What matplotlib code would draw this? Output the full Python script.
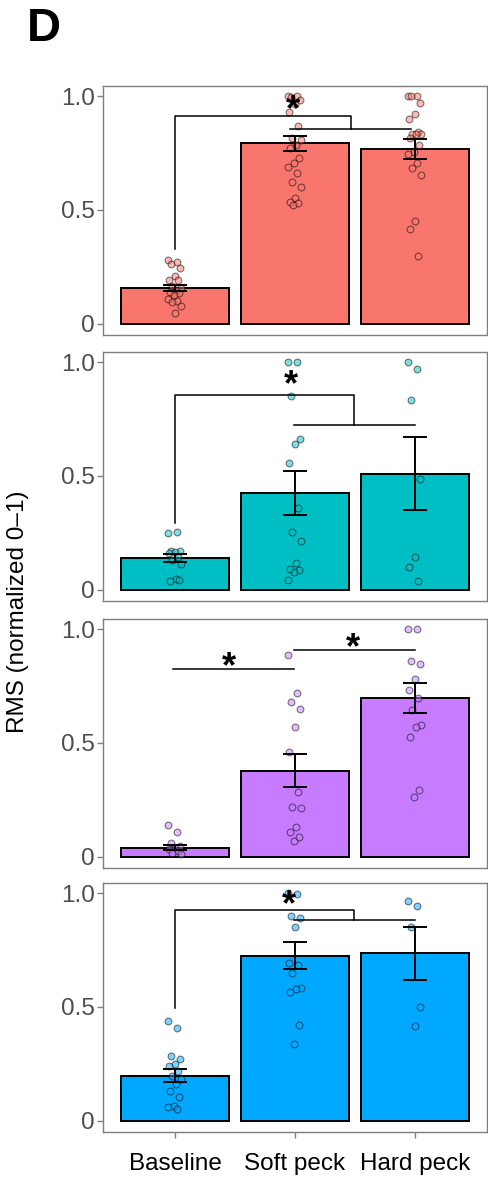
import numpy as np
import matplotlib
matplotlib.use("Agg")
import matplotlib.pyplot as plt

plt.rcParams['font.family'] = ['Liberation Sans', 'DejaVu Sans']

categories = ["Baseline", "Soft peck", "Hard peck"]
colors = ["#F8766D", "#00BFC4", "#C77CFF", "#00A9FF"]

# bar means and standard errors per panel
means = [
    [0.158, 0.793, 0.769],
    [0.139, 0.425, 0.510],
    [0.040, 0.378, 0.698],
    [0.197, 0.726, 0.736],
]
sems = [
    [0.013, 0.034, 0.045],
    [0.016, 0.096, 0.160],
    [0.011, 0.073, 0.065],
    [0.028, 0.058, 0.116],
]

# individual points
pts_p1 = [
    [0.282, 0.270, 0.263, 0.245, 0.209, 0.194, 0.190, 0.165, 0.155, 0.147, 0.139,
     0.133, 0.128, 0.107, 0.099, 0.096, 0.077, 0.048],
    [1.0, 1.0, 0.997, 0.982, 0.965, 0.931, 0.870, 0.815, 0.807, 0.785, 0.771, 0.727,
     0.705, 0.690, 0.661, 0.622, 0.600, 0.552, 0.537, 0.530, 0.523],
    [1.0, 1.0, 1.0, 0.971, 0.920, 0.902, 0.844, 0.836, 0.836, 0.834, 0.815, 0.785,
     0.756, 0.745, 0.705, 0.683, 0.654, 0.450, 0.416, 0.299],
]
pts_p2 = [
    [0.249, 0.253, 0.170, 0.170, 0.165, 0.161, 0.143, 0.132, 0.114, 0.048, 0.038, 0.044],
    [1.0, 1.0, 0.851, 0.663, 0.641, 0.558, 0.359, 0.253, 0.214, 0.119, 0.089, 0.085,
     0.078, 0.044],
    [1.0, 0.969, 0.835, 0.488, 0.142, 0.098, 0.037],
]
pts_p3 = [
    [0.139, 0.107, 0.059, 0.048, 0.040, 0.034, 0.026, 0.015, 0.010],
    [0.886, 0.720, 0.681, 0.649, 0.571, 0.461, 0.286, 0.217, 0.215, 0.130, 0.110,
     0.086, 0.070],
    [1.0, 1.0, 0.859, 0.846, 0.779, 0.732, 0.698, 0.644, 0.578, 0.571, 0.527, 0.293,
     0.264],
]
pts_p4 = [
    [0.438, 0.406, 0.285, 0.270, 0.248, 0.241, 0.219, 0.197, 0.182, 0.161, 0.131,
     0.105, 0.066, 0.058, 0.051],
    [1.0, 0.997, 0.898, 0.891, 0.850, 0.693, 0.686, 0.650, 0.584, 0.577, 0.566,
     0.420, 0.339],
    [0.966, 0.946, 0.851, 0.501, 0.416],
]
points = [pts_p1, pts_p2, pts_p3, pts_p4]

yticks = [0, 0.5, 1.0]
ytick_labels = ["0", "0.5", "1.0"]

fig = plt.figure(figsize=(4.89, 11.77), dpi=100)
left, width = 103 / 489, 384 / 489
tops = [86, 352, 619, 883]
h = 249

xs = np.arange(1, 4)

def jitter(n, amp=0.06):
    k = np.arange(n)
    return amp * 2 * (((k * 0.6180339) % 1.0) - 0.5)

frame_col = "#7F7F7F"
for i in range(4):
    bottom = 1 - (tops[i] + h) / 1177
    ax = fig.add_axes([left, bottom, width, h / 1177])
    c = colors[i]
    ax.bar(xs, means[i], width=0.9, color=c, edgecolor="black", linewidth=1.4, zorder=2)
    for j in range(3):
        yv = np.array(points[i][j])
        ax.scatter(xs[j] + jitter(len(yv)), yv, s=24, facecolor=c, edgecolor="black",
                   linewidth=0.8, alpha=0.5, zorder=3)
    ax.errorbar(xs, means[i], yerr=sems[i], fmt="none", ecolor="black", elinewidth=1.4,
                capsize=8.6, capthick=1.4, zorder=4)
    ax.set_xlim(0.4, 3.6)
    ax.set_ylim(-0.05, 1.045)
    ax.set_yticks(yticks)
    ax.set_yticklabels(ytick_labels)
    for s in ax.spines.values():
        s.set_color(frame_col)
        s.set_linewidth(1.0)
    ax.tick_params(axis="y", colors=frame_col, labelcolor="#4D4D4D", labelsize=17.5,
                   length=4, width=1.0, pad=2)
    if i < 3:
        ax.set_xticks([])
    else:
        ax.set_xticks(xs)
        ax.set_xticklabels(categories)
        ax.tick_params(axis="x", colors=frame_col, labelcolor="black", labelsize=17.5,
                       length=4, width=1.0, pad=11)

    lk = dict(color="black", lw=1.1, zorder=5)
    if i == 0:
        ax.plot([1, 1, 2.47, 2.47], [0.326, 0.914, 0.914, 0.855], **lk)
        ax.plot([1.96, 2.97], [0.855, 0.855], **lk)
        ax.text(1.98, 0.935, "*", ha="center", va="center", fontsize=26, fontweight="bold")
    elif i == 1:
        ax.plot([1, 1, 2.49, 2.49], [0.294, 0.857, 0.857, 0.726], **lk)
        ax.plot([1.99, 3.0], [0.726, 0.726], **lk)
        ax.text(1.97, 0.895, "*", ha="center", va="center", fontsize=26, fontweight="bold")
    elif i == 2:
        ax.plot([0.98, 1.99], [0.823, 0.823], **lk)
        ax.plot([1.99, 3.0], [0.908, 0.908], **lk)
        ax.text(1.45, 0.83, "*", ha="center", va="center", fontsize=26, fontweight="bold")
        ax.text(2.48, 0.915, "*", ha="center", va="center", fontsize=26, fontweight="bold")
    else:
        ax.plot([1, 1, 2.49, 2.49], [0.496, 0.927, 0.927, 0.883], **lk)
        ax.plot([1.99, 3.0], [0.883, 0.883], **lk)
        ax.text(1.95, 0.945, "*", ha="center", va="center", fontsize=26, fontweight="bold")

fig.text(18 / 489, 1 - 612 / 1177, "RMS (normalized 0\u20131)", rotation=90,
         ha="center", va="center", fontsize=17.5, color="black")
fig.text(27 / 489, 1 - 41 / 1177, "D", ha="left", va="baseline", fontsize=34,
         fontweight="bold")

fig.savefig("out.png", dpi=100)
